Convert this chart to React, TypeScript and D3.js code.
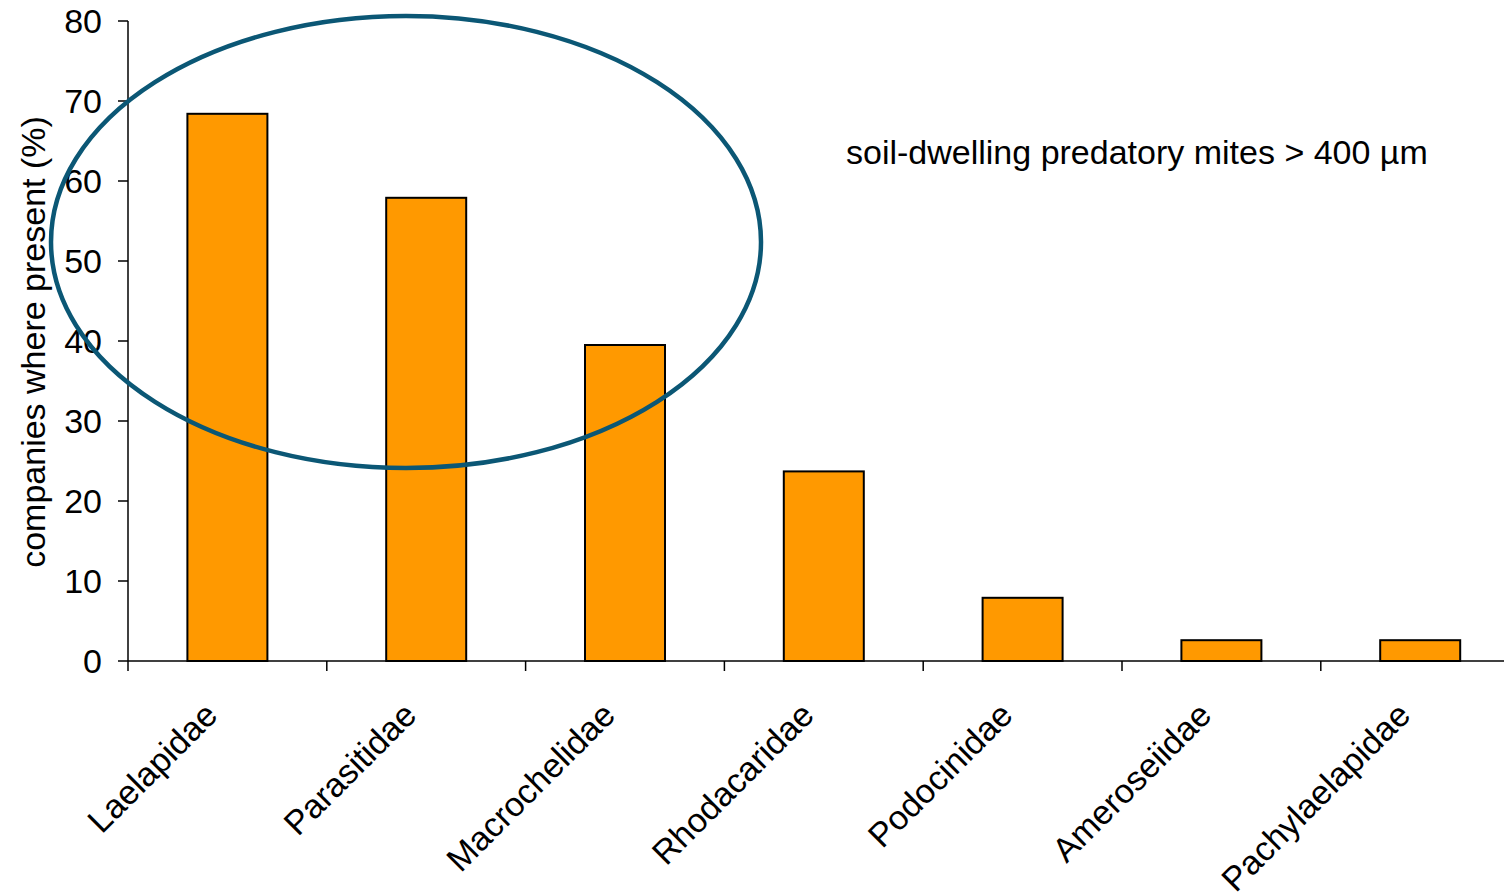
import React from "react";
import * as d3 from "d3";

const families = [
  "Laelapidae",
  "Parasitidae",
  "Macrochelidae",
  "Rhodacaridae",
  "Podocinidae",
  "Ameroseiidae",
  "Pachylaelapidae",
];
const presence = [68.4, 57.9, 39.5, 23.7, 7.9, 2.6, 2.6];
const yTicks = [0, 10, 20, 30, 40, 50, 60, 70, 80];

const W = 1504;
const H = 893;
const left = 128;
const top = 21;
const bottom = 661;
const font = "'Liberation Sans', Arial, sans-serif";
const fs = 34;

export default function App() {
  const x = d3.scaleLinear().domain([0, families.length]).range([left, left + 198.8 * 7]);
  const y = d3.scaleLinear().domain([0, 80]).range([bottom, top]);
  const barW = 80;

  return (
    <svg width={W} height={H} style={{ position: "absolute", left: 0, top: 0, background: "#fff" }}>
      {/* bars */}
      {presence.map((v, i) => {
        const cx = x(i + 0.5);
        return (
          <rect
            key={families[i]}
            x={cx - barW / 2}
            y={y(v)}
            width={barW}
            height={y(0) - y(v)}
            fill="#FF9900"
            stroke="#000"
            strokeWidth={2}
          />
        );
      })}

      {/* y axis */}
      <line x1={left} x2={left} y1={top} y2={bottom} stroke="#000" strokeWidth={1.5} />
      {yTicks.map((t) => (
        <g key={t}>
          <line x1={left - 10} x2={left} y1={y(t)} y2={y(t)} stroke="#000" strokeWidth={1.5} />
          <text
            x={left - 26}
            y={y(t)}
            dy="0.36em"
            textAnchor="end"
            fontFamily={font}
            fontSize={fs}
            fill="#000"
          >
            {t}
          </text>
        </g>
      ))}

      {/* x axis */}
      <line x1={left} x2={W} y1={bottom} y2={bottom} stroke="#000" strokeWidth={1.5} />
      {d3.range(families.length + 1).map((i) => (
        <line key={i} x1={x(i)} x2={x(i)} y1={bottom} y2={bottom + 10} stroke="#000" strokeWidth={1.5} />
      ))}
      {families.map((f, i) => {
        const cx = x(i + 0.5);
        return (
          <text
            key={f}
            transform={`translate(${cx - 25},${700}) rotate(-45)`}
            textAnchor="end"
            dy="0.71em"
            fontFamily={font}
            fontSize={fs}
            fill="#000"
          >
            {f}
          </text>
        );
      })}

      {/* y axis title */}
      <text
        transform={`translate(45,${(117 + 567) / 2}) rotate(-90)`}
        textAnchor="middle"
        fontFamily={font}
        fontSize={fs}
        fill="#000"
      >
        companies where present (%)
      </text>

      {/* annotation */}
      <text x={846} y={164} fontFamily={font} fontSize={fs} fill="#000">
        soil-dwelling predatory mites &gt; 400 µm
      </text>

      {/* highlight ellipse */}
      <ellipse cx={406} cy={242} rx={355} ry={226} fill="none" stroke="#0B5775" strokeWidth={4.5} />
    </svg>
  );
}
